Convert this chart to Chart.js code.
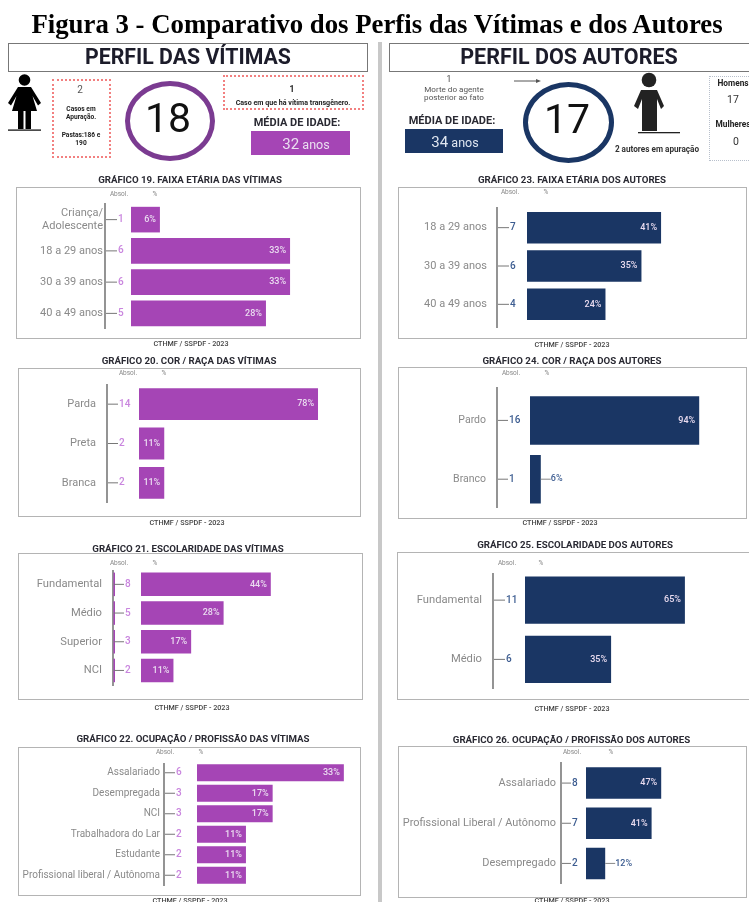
<!DOCTYPE html>
<html>
<head>
<meta charset="utf-8">
<title>Figura 3</title>
<script src="https://cdn.jsdelivr.net/npm/chart.js@4"></script>
<style>
  html, body { margin: 0; padding: 0; background: #fff; }
  #page { position: relative; width: 749px; height: 902px; overflow: hidden; font-family: Roboto, sans-serif; color: #222; filter: blur(0.5px); }
  #page > * { position: absolute; }
  .t { white-space: nowrap; transform: translate(-50%, -50%); line-height: 1; }
  .b { font-weight: 700; }
  .card { box-sizing: border-box; border: 1.5px solid #b4b4b4; }
  .head { box-sizing: border-box; border: 1.5px solid #777; }
  .dash { box-sizing: border-box; border: 2px dotted #f28080; }
  .ring { box-sizing: border-box; border-radius: 50%; border-style: solid; border-width: 5px; }
  canvas { display: block; }
</style>
</head>
<body>
<div id="page">
  <div class="t" style="left:377px;top:24px;font:700 26.8px 'Liberation Serif',serif;color:#000">Figura 3 - Comparativo dos Perfis das Vítimas e dos Autores</div>

  <div style="left:378px;top:42px;width:4px;height:860px;background:#c8c8c8"></div>

  <div class="head" style="left:8px;top:43px;width:360px;height:29px"></div>
  <div class="t b" style="left:188px;top:57px;font-size:21.3px;color:#1c1c2a">PERFIL DAS VÍTIMAS</div>
  <div class="head" style="left:389px;top:43px;width:370px;height:29px"></div>
  <div class="t b" style="left:569px;top:57px;font-size:21.5px;color:#1c1c2a">PERFIL DOS AUTORES</div>

  <!-- vitimas -->
  <svg style="left:0;top:0" width="60" height="140">
    <circle cx="24.5" cy="80" r="5.8" fill="#000"/>
    <path d="M18 87 L31 87 L41 103 L38 105.5 L32.5 96 L37 111 L12 111 L16.5 96 L11 105.5 L8 103 Z" fill="#000"/>
    <rect x="18" y="111" width="5.5" height="18" fill="#000"/>
    <rect x="25.5" y="111" width="5.5" height="18" fill="#000"/>
    <rect x="8" y="129.5" width="33" height="1.2" fill="#000"/>
  </svg>
  <div class="dash" style="left:52px;top:79px;width:59px;height:79px"></div>
  <div class="t" style="left:80px;top:90px;font-size:10px;color:#555">2</div>
  <div class="t b" style="left:81px;top:109px;font-size:6.6px">Casos em</div>
  <div class="t b" style="left:81px;top:117px;font-size:6.6px">Apuração.</div>
  <div class="t b" style="left:81px;top:135px;font-size:6.6px">Pastas:186 e</div>
  <div class="t b" style="left:81px;top:143px;font-size:6.6px">190</div>
  <div class="ring" style="left:125px;top:81px;width:90px;height:80px;border-color:#7b3b91"></div>
  <div class="t" style="left:168px;top:118px;font-size:41px;color:#111">18</div>
  <div class="dash" style="left:223px;top:75px;width:141px;height:35px"></div>
  <div class="t b" style="left:292px;top:89px;font-size:8.5px">1</div>
  <div class="t b" style="left:293px;top:103px;font-size:7.1px">Caso em que há vítima transgênero.</div>
  <div class="t b" style="left:297px;top:122px;font-size:11px;color:#2a2a33">MÉDIA DE IDADE:</div>
  <div style="left:251px;top:131px;width:99px;height:24px;background:#a545b5"></div>
  <div class="t" style="left:306px;top:144px;color:#eadff0;font-size:15px">32<span style="font-size:12.5px"> anos</span></div>

  <!-- autores -->
  <div class="t" style="left:449px;top:79px;font-size:8.5px;color:#444">1</div>
  <div class="t" style="left:454px;top:89px;font-size:8.1px;color:#555">Morte do agente</div>
  <div class="t" style="left:454px;top:97px;font-size:8.1px;color:#555">posterior ao fato</div>
  <svg style="left:510px;top:76px" width="36" height="10">
    <line x1="4" y1="5" x2="28" y2="5" stroke="#555" stroke-width="1"/>
    <path d="M26 3 L31 5 L26 7 Z" fill="#555"/>
  </svg>
  <div class="t b" style="left:452px;top:120px;font-size:11px;color:#2a2a33">MÉDIA DE IDADE:</div>
  <div style="left:405px;top:129px;width:98px;height:24px;background:#1a3664"></div>
  <div class="t" style="left:455px;top:142px;color:#dfe6f0;font-size:15px">34<span style="font-size:12.5px"> anos</span></div>
  <div class="ring" style="left:523px;top:82px;width:91px;height:81px;border-color:#1a3664"></div>
  <div class="t" style="left:567px;top:119px;font-size:41px;color:#111">17</div>
  <svg style="left:625px;top:68px" width="60" height="70">
    <circle cx="24" cy="12" r="7.3" fill="#222"/>
    <path d="M16 22 L32 22 L39 38 L36 41 L32 31 L32 63 L17 63 L17 31 L13 41 L9 38 Z" fill="#222"/>
    <rect x="13" y="64" width="42" height="1.3" fill="#222"/>
  </svg>
  <div class="t b" style="left:657px;top:149px;font-size:8.2px;color:#333">2 autores em apuração</div>
  <div style="left:709px;top:76px;width:50px;height:85px;box-sizing:border-box;border:1.5px dotted #b8c0cc"></div>
  <div class="t b" style="left:733px;top:83px;font-size:8.3px">Homens</div>
  <div class="t" style="left:733px;top:100px;font-size:10.5px;color:#333">17</div>
  <div class="t b" style="left:733px;top:124px;font-size:8.3px">Mulheres</div>
  <div class="t" style="left:736px;top:142px;font-size:10.5px;color:#333">0</div>
</div>

<script>
const purple = '#a545b5';
const purpleText = '#c985de';
const navy = '#1a3664';
const navyText = '#3c5c90';

// Vítimas
const g19Labels = [['Criança/', 'Adolescente'], '18 a 29 anos', '30 a 39 anos', '40 a 49 anos'];
const g19Abs = [1, 6, 6, 5];
const g19Pct = [6, 33, 33, 28];

const g20Labels = ['Parda', 'Preta', 'Branca'];
const g20Abs = [14, 2, 2];
const g20Pct = [78, 11, 11];

const g21Labels = ['Fundamental', 'Médio', 'Superior', 'NCI'];
const g21Abs = [8, 5, 3, 2];
const g21Pct = [44, 28, 17, 11];

const g22Labels = ['Assalariado', 'Desempregada', 'NCI', 'Trabalhadora do Lar', 'Estudante', 'Profissional liberal / Autônoma'];
const g22Abs = [6, 3, 3, 2, 2, 2];
const g22Pct = [33, 17, 17, 11, 11, 11];

// Autores
const g23Labels = ['18 a 29 anos', '30 a 39 anos', '40 a 49 anos'];
const g23Abs = [7, 6, 4];
const g23Pct = [41, 35, 24];

const g24Labels = ['Pardo', 'Branco'];
const g24Abs = [16, 1];
const g24Pct = [94, 6];

const g25Labels = ['Fundamental', 'Médio'];
const g25Abs = [11, 6];
const g25Pct = [65, 35];

const g26Labels = ['Assalariado', 'Profissional Liberal / Autônomo', 'Desempregado'];
const g26Abs = [8, 7, 2];
const g26Pct = [47, 41, 12];

const source = 'CTHMF / SSPDF - 2023';

// card = left, top, right, bottom. area = top/bottom of the rows. x0 = where the bars start
const charts = [
  { title: 'GRÁFICO 19. FAIXA ETÁRIA DAS VÍTIMAS', labels: g19Labels, abs: g19Abs, pct: g19Pct, color: purple, absColor: purpleText,
    card: [16, 187, 361, 339], area: [204, 329], axis: [203, 329], axisX: 105, x0: 131, ppp: 4.82, labelRight: 103, absX: 117, thick: .82, font: 11,
    titlePos: [190, 180], sourcePos: [191, 344], head: [119, 155, 194] },
  { title: 'GRÁFICO 20. COR / RAÇA DAS VÍTIMAS', labels: g20Labels, abs: g20Abs, pct: g20Pct, color: purple, absColor: purpleText,
    card: [18, 368, 361, 517], area: [384.5, 502.5], axis: [384, 503], axisX: 107, x0: 139, ppp: 2.295, labelRight: 96, absX: 118, thick: .81, font: 11,
    titlePos: [189, 361], sourcePos: [187, 523], head: [128, 164, 373.5] },
  { title: 'GRÁFICO 21. ESCOLARIDADE DAS VÍTIMAS', labels: g21Labels, abs: g21Abs, pct: g21Pct, color: purple, absColor: purpleText,
    card: [18, 553, 363, 700], area: [570, 684.8], axis: [570, 686], axisX: 113, x0: 141, ppp: 2.95, labelRight: 102, absX: 124, thick: .82, font: 11.2, stripe: true,
    titlePos: [188, 549], sourcePos: [192, 708], head: [119, 155, 563] },
  { title: 'GRÁFICO 22. OCUPAÇÃO / PROFISSÃO DAS VÍTIMAS', labels: g22Labels, abs: g22Abs, pct: g22Pct, color: purple, absColor: purpleText,
    card: [18, 747, 361, 896], area: [762.5, 885.5], axis: [763, 886], axisX: 164, x0: 197, ppp: 4.45, labelRight: 160, absX: 175, thick: .83, font: 10,
    titlePos: [193, 739], sourcePos: [190, 901], head: [165, 201, 752] },
  { title: 'GRÁFICO 23. FAIXA ETÁRIA DOS AUTORES', labels: g23Labels, abs: g23Abs, pct: g23Pct, color: navy, absColor: navyText,
    card: [398, 187, 747, 339], area: [208.5, 323.5], axis: [207, 328], axisX: 497, x0: 527, ppp: 3.27, labelRight: 487, absX: 509, thick: .82, font: 11,
    titlePos: [572, 180], sourcePos: [572, 345], head: [510, 546, 192] },
  { title: 'GRÁFICO 24. COR / RAÇA DOS AUTORES', labels: g24Labels, abs: g24Abs, pct: g24Pct, color: navy, absColor: navyText,
    card: [398, 367, 747, 519], area: [391, 508.6], axis: [387, 508], axisX: 497, x0: 530, ppp: 1.8, labelRight: 486, absX: 508, thick: .825, font: 10.5,
    titlePos: [572, 361], sourcePos: [560, 523], head: [511, 547, 373] },
  { title: 'GRÁFICO 25. ESCOLARIDADE DOS AUTORES', labels: g25Labels, abs: g25Abs, pct: g25Pct, color: navy, absColor: navyText,
    card: [397, 552, 760, 700], area: [570.5, 689], axis: [573, 689], axisX: 493, x0: 525, ppp: 2.46, labelRight: 482, absX: 505, thick: .8, font: 11.2,
    titlePos: [575, 545], sourcePos: [572, 709], head: [507, 541, 563] },
  { title: 'GRÁFICO 26. OCUPAÇÃO / PROFISSÃO DOS AUTORES', labels: g26Labels, abs: g26Abs, pct: g26Pct, color: navy, absColor: navyText,
    card: [398, 746, 747, 898], area: [763, 883.5], axis: [762, 884], axisX: 561, x0: 586, ppp: 1.6, labelRight: 556, absX: 571, thick: .785, font: 10.9,
    titlePos: [571.5, 740], sourcePos: [572, 901], head: [572, 611, 752] }
];

const page = document.getElementById('page');

const addText = (text, x, y, css) => {
  const el = document.createElement('div');
  el.className = 't';
  el.textContent = text;
  el.style.cssText = `left:${x}px;top:${y}px;${css}`;
  page.appendChild(el);
};

// Axis line, absolute values, headers and % labels that Chart.js has no option for
const extrasPlugin = {
  id: 'extras',
  afterDatasetsDraw(chart, args, opts) {
    const c = opts.cfg;
    const { ctx, scales } = chart;
    const left = c.card[0];
    const top = c.card[1];
    ctx.save();

    ctx.strokeStyle = '#666';
    ctx.lineWidth = 1.4;
    ctx.beginPath();
    ctx.moveTo(c.axisX - left, c.axis[0] - top);
    ctx.lineTo(c.axisX - left, c.axis[1] - top);
    ctx.stroke();

    ctx.font = '6.5px Roboto';
    ctx.fillStyle = '#888';
    ctx.textAlign = 'center';
    ctx.textBaseline = 'middle';
    ctx.fillText('Absol.', c.head[0] - left, c.head[2] - top);
    ctx.fillText('%', c.head[1] - left, c.head[2] - top);

    const bars = chart.getDatasetMeta(0).data;
    c.labels.forEach((label, i) => {
      const y = scales.y.getPixelForValue(i);

      if (c.stripe) {
        ctx.fillStyle = c.color;
        ctx.fillRect(c.axisX - left + 0.5, bars[i].y - bars[i].height / 2, 1.5, bars[i].height);
      }

      ctx.strokeStyle = '#777';
      ctx.lineWidth = 1;
      ctx.beginPath();
      ctx.moveTo(c.axisX - left + 1, y);
      ctx.lineTo(c.absX - left, y);
      ctx.stroke();

      ctx.font = '500 10px Roboto';
      ctx.fillStyle = c.absColor;
      ctx.textAlign = 'left';
      ctx.fillText(c.abs[i], c.absX - left + 1, y);

      const end = scales.x.getPixelForValue(c.pct[i]);
      const text = c.pct[i] + '%';
      ctx.font = '500 9px Roboto';
      if (end - bars[i].base < 25) {
        // bar too short: label sits outside with a small leader
        ctx.strokeStyle = '#888';
        ctx.beginPath();
        ctx.moveTo(end, y);
        ctx.lineTo(end + 10, y);
        ctx.stroke();
        ctx.fillStyle = c.absColor;
        ctx.fillText(text, end + 10, y);
      } else {
        ctx.fillStyle = '#eadcf0';
        ctx.textAlign = 'right';
        ctx.fillText(text, end - 4, y);
      }
    });
    ctx.restore();
  }
};

charts.forEach(c => {
  const [l, t, r, b] = c.card;

  const box = document.createElement('div');
  box.className = 'card';
  box.style.cssText = `left:${l}px;top:${t}px;width:${r - l}px;height:${b - t}px`;
  page.appendChild(box);

  addText(c.title, c.titlePos[0], c.titlePos[1], 'font-size:9.7px;font-weight:700;color:#2a2a33');
  addText(source, c.sourcePos[0], c.sourcePos[1], 'font-size:7.2px;font-weight:500;color:#444');

  const canvas = document.createElement('canvas');
  canvas.width = r - l;
  canvas.height = b - t;
  canvas.style.cssText = `left:${l}px;top:${t}px`;
  page.appendChild(canvas);

  new Chart(canvas.getContext('2d'), {
    type: 'bar',
    data: {
      labels: c.labels,
      datasets: [{
        data: c.pct,
        backgroundColor: c.color,
        borderWidth: 0,
        categoryPercentage: 1,
        barPercentage: c.thick
      }]
    },
    options: {
      indexAxis: 'y',
      responsive: false,
      animation: false,
      layout: { padding: { top: c.area[0] - t, bottom: b - c.area[1], left: 0, right: 0 } },
      plugins: {
        legend: { display: false },
        tooltip: { enabled: false },
        extras: { cfg: c }
      },
      scales: {
        x: { display: false, min: 0, max: (r - c.x0) / c.ppp },
        y: {
          // tick padding also pads the scale vertically, so that is reset here
          afterFit: s => { s.width = c.x0 - l; s.paddingTop = 0; s.paddingBottom = 0; },
          border: { display: false },
          grid: { display: false, drawTicks: false },
          ticks: {
            autoSkip: false,
            padding: c.x0 - c.labelRight,
            color: '#8a8a8a',
            font: { family: 'Roboto', size: c.font, lineHeight: 1.2 }
          }
        }
      }
    },
    plugins: [extrasPlugin]
  });
});
</script>
</body>
</html>
